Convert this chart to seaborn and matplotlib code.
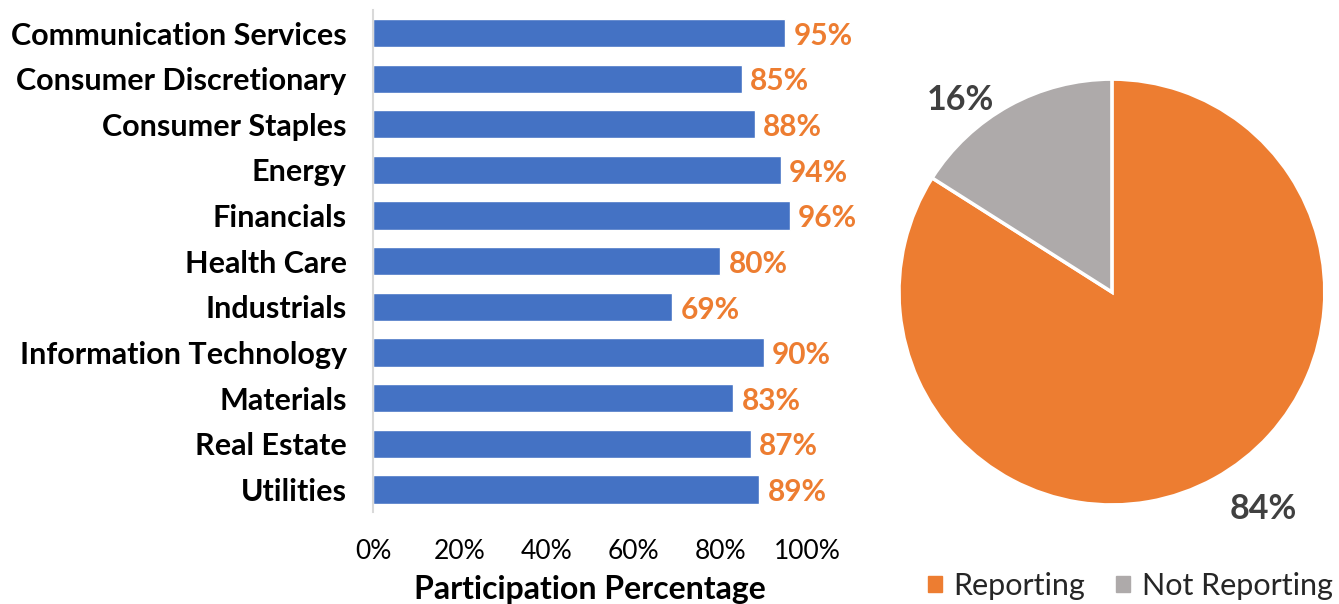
import matplotlib.pyplot as plt
import matplotlib.patches as mpatches
import numpy as np
import pandas as pd
import seaborn as sns

sectors = ["Communication Services", "Consumer Discretionary", "Consumer Staples",
           "Energy", "Financials", "Health Care", "Industrials",
           "Information Technology", "Materials", "Real Estate", "Utilities"]
participation = [95, 85, 88, 94, 96, 80, 69, 90, 83, 87, 89]

pie_labels = ["Reporting", "Not Reporting"]
pie_values = [84, 16]

blue = "#4472C4"
orange = "#ED7D31"
gray = "#AEAAAA"
dark = "#404040"


def main():
  sns.set_theme(style="white")
  plt.rcParams['font.family'] = ['Lato', 'DejaVu Sans']

  fig = plt.figure(figsize=(13.39, 6.04), dpi=100)
  ax = fig.add_axes([0.2786, 0.152, 0.3241, 0.831])
  df = pd.DataFrame({'sector': sectors, 'value': participation})
  sns.barplot(data=df, x='value', y='sector', color=blue, saturation=1,
              width=0.62, ax=ax)
  ax.set_xlim(0, 100)
  ax.set_ylim(10.5, -0.5)
  ax.set_xticks(np.arange(0, 101, 20))
  ax.set_xticklabels([f'{t}%' for t in range(0, 101, 20)], fontsize=19,
                     color='black')
  ax.tick_params(axis='y', labelsize=22, length=0, pad=19)
  ax.tick_params(axis='x', length=0, pad=19)
  for lab in ax.get_yticklabels():
    lab.set_fontweight('bold')
    lab.set_color('black')
  ax.set_ylabel('')
  ax.set_xlabel('Participation Percentage', fontsize=23, fontweight='bold',
                color='black', labelpad=8)
  for s in ['top', 'right', 'bottom']:
    ax.spines[s].set_visible(False)
  ax.spines['left'].set_color('#D9D9D9')
  ax.spines['left'].set_linewidth(1.5)
  for p, v in zip(ax.patches, participation):
    ax.text(p.get_width() + 1.9, p.get_y() + p.get_height() / 2 + 0.06,
            f'{v}%', color=orange, fontsize=21.5, fontweight='bold',
            va='center', ha='left')

  pax = fig.add_axes([0.6714, 0.164, 0.318, 0.705])
  wedges, texts = pax.pie(pie_values, colors=[orange, gray], startangle=90,
                          counterclock=False,
                          wedgeprops=dict(edgecolor='white', linewidth=2.5))
  pax.set_xlim(-1, 1)
  pax.set_ylim(-1, 1)
  pax.set_aspect('equal')
  pax.text(0.71, -1.02, f'{pie_values[0]}%', fontsize=24.5, fontweight='bold',
           color=dark, ha='center', va='center', clip_on=False)
  pax.text(-0.71, 0.90, f'{pie_values[1]}%', fontsize=24.5, fontweight='bold',
           color=dark, ha='center', va='center', clip_on=False)

  handles = [mpatches.Patch(color=orange, label=pie_labels[0]),
             mpatches.Patch(color=gray, label=pie_labels[1])]
  fig.legend(handles=handles, loc='center right',
             bbox_to_anchor=(1.0, 0.03), borderaxespad=0.1,
             ncol=2, frameon=False, fontsize=22, handlelength=0.45,
             handleheight=0.45, handletextpad=0.4, columnspacing=1.0,
             borderpad=0.1)

  plt.savefig('out.png', dpi=100)
  plt.close()


if __name__ == '__main__':
  main()
